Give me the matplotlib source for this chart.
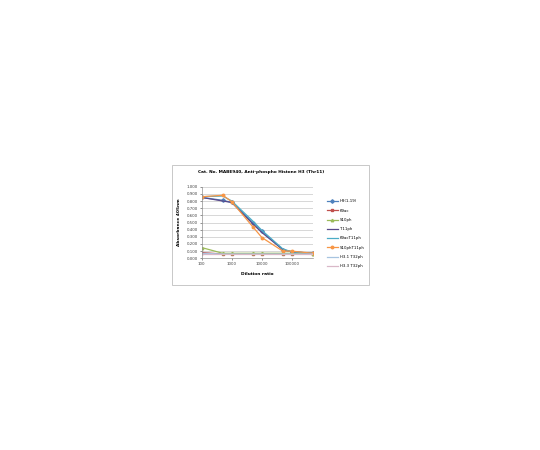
import numpy as np
import matplotlib
matplotlib.use("Agg")
import matplotlib.pyplot as plt
from matplotlib.patches import Rectangle

# diluciones y absorbancias
dilucion = [100, 500, 1000, 5000, 10000, 50000, 100000, 500000]
series = ["H3(1-19)", "K9ac", "S10ph", "T11ph", "K9acT11ph",
          "S10phT11ph", "H3.1 T32ph", "H3.3 T32ph"]
h3 = [0.85, 0.81, 0.78, 0.50, 0.38, 0.12, 0.09, 0.07]
k9ac = [0.08, 0.06, 0.06, 0.06, 0.06, 0.06, 0.06, 0.06]
s10ph = [0.15, 0.07, 0.07, 0.07, 0.07, 0.07, 0.07, 0.06]
t11ph = [0.85, 0.80, 0.78, 0.48, 0.36, 0.12, 0.09, 0.07]
k9act11ph = [0.86, 0.87, 0.80, 0.52, 0.39, 0.13, 0.09, 0.07]
s10pht11ph = [0.86, 0.88, 0.79, 0.44, 0.29, 0.10, 0.10, 0.07]
h31t32 = [0.07, 0.06, 0.06, 0.06, 0.06, 0.06, 0.06, 0.06]
h33t32 = [0.06, 0.06, 0.06, 0.06, 0.06, 0.06, 0.06, 0.06]
valores = [h3, k9ac, s10ph, t11ph, k9act11ph, s10pht11ph, h31t32, h33t32]
colores = ["#4F81BD", "#C0504D", "#9BBB59", "#5A4A8A", "#4BACC6",
           "#F79646", "#A7C4E0", "#D9B8C8"]
marcadores = ["D", "s", "^", None, None, "o", None, None]

fig = plt.figure(figsize=(5.4, 4.5), dpi=100)
W, H = 540, 450

# marco del grafico
fig.patches.append(Rectangle((171.7 / W, 1 - 285 / H), (369 - 171.7) / W, (285 - 165) / H,
                             transform=fig.transFigure, fill=False,
                             edgecolor="#BFBFBF", linewidth=0.6))

ax = fig.add_axes([201.7 / W, 1 - 258.3 / H, (313 - 201.7) / W, (258.3 - 186.7) / H])
for nombre, v, c, m in zip(series, valores, colores, marcadores):
    ax.plot(dilucion, v, color=c, marker=m, markersize=1.8, linewidth=0.9, label=nombre)

ax.set_xscale("log")
ax.set_xlim(100, 500000)
ax.set_ylim(0, 1.0)
ax.set_xticks([100, 1000, 10000, 100000])
ax.set_xticklabels(["100", "1000", "10000", "100000"])
ax.xaxis.set_minor_locator(matplotlib.ticker.NullLocator())
ax.set_yticks(np.arange(0, 1.01, 0.1))
ax.set_yticklabels(["%.3f" % t for t in np.arange(0, 1.01, 0.1)])
ax.tick_params(labelsize=2.8, length=1.5, width=0.4, colors="#404040", pad=1.5)
ax.grid(axis="y", color="#C8C8C8", linewidth=0.5)
ax.set_axisbelow(True)
for s in ["top", "right"]:
    ax.spines[s].set_visible(False)
for s in ["left", "bottom"]:
    ax.spines[s].set_color("#909090")
    ax.spines[s].set_linewidth(0.5)

ax.set_xlabel("Dilution ratio", fontsize=3.2, fontweight="bold", labelpad=4)
ax.set_ylabel("Absorbance 405nm", fontsize=3.2, fontweight="bold", labelpad=4)
fig.text(261.5 / W, 1 - 172.5 / H, "Cat. No. MABE940, Anti-phospho Histone H3 (Thr11)",
         fontsize=3.1, fontweight="bold", ha="center", va="center")

ax.legend(loc="upper left", bbox_to_anchor=(323 / W, 1 - 196 / H),
          bbox_transform=fig.transFigure, frameon=False, fontsize=2.8,
          labelspacing=1.35, handlelength=3.0, handletextpad=0.5)

fig.savefig("out.png", dpi=100)
